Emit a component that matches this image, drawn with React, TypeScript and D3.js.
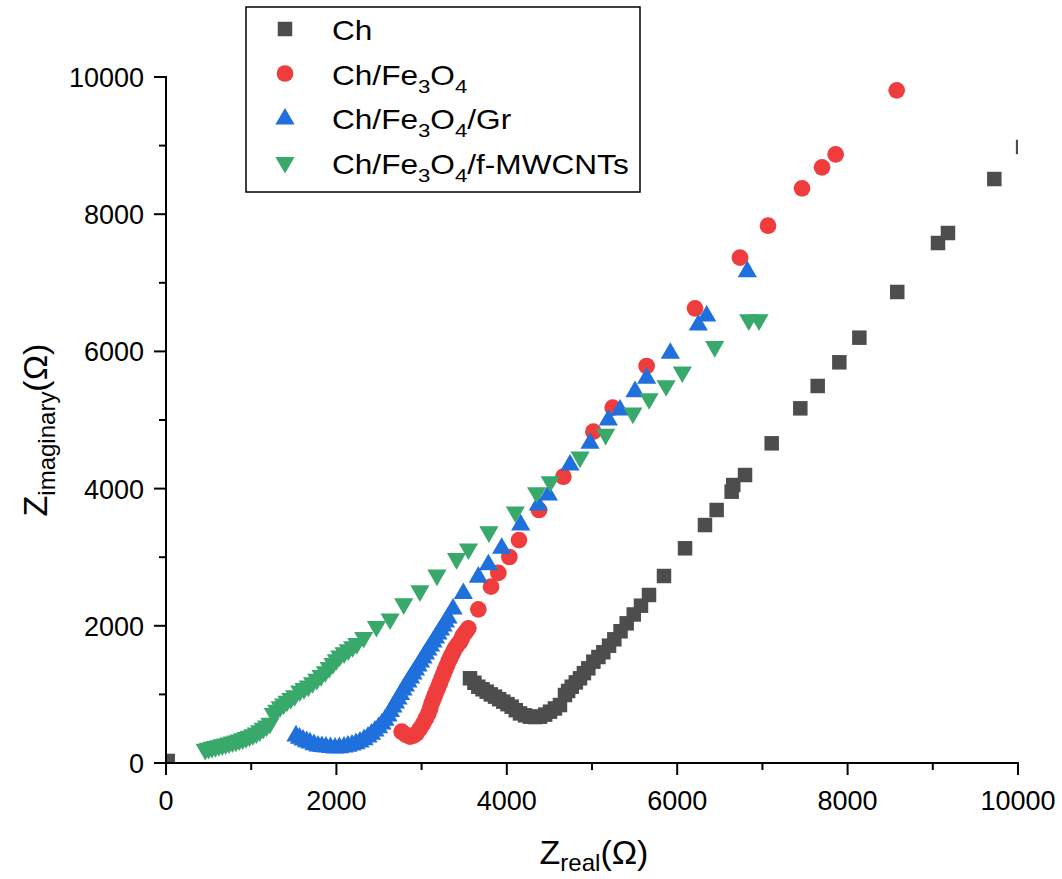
import { useMemo } from "react";
import * as d3 from "d3";

const WIDTH = 1062;
const HEIGHT = 879;
const MARGIN = { top: 77, right: 44, bottom: 116, left: 166 };

// Nyquist data, [Z real, Z imaginary] in ohm
const chPoints = [
  [20, 30], [3568, 1235], [3620, 1170], [3666, 1112], [3715, 1075], [3764, 1040],
  [3812, 1000], [3862, 967], [3910, 930], [3959, 894], [4008, 858], [4057, 821],
  [4105, 770], [4155, 723], [4215, 695], [4272, 675], [4330, 670], [4390, 675],
  [4450, 705], [4507, 748], [4565, 795], [4624, 845], [4683, 991], [4720, 1050],
  [4762, 1112], [4810, 1175], [4859, 1235], [4905, 1310], [4957, 1380], [5016, 1477],
  [5075, 1545], [5133, 1614], [5200, 1710], [5262, 1803], [5335, 1920], [5407, 2036],
  [5490, 2165], [5575, 2293], [5669, 2449], [5845, 2726], [6092, 3130], [6326, 3469],
  [6463, 3688], [6639, 3955], [6658, 4052], [6796, 4198], [7109, 4660], [7445, 5170],
  [7649, 5496], [7903, 5841], [8138, 6200], [8583, 6866], [9061, 7580], [9178, 7726],
  [9722, 8513], [10060, 8980],
];

const fe3o4Points = [
  [2766, 456], [2815, 410], [2864, 384], [2905, 400], [2942, 433], [2980, 500],
  [3020, 578], [3050, 650], [3079, 723], [3100, 795], [3118, 870], [3138, 930],
  [3157, 991], [3176, 1050], [3196, 1112], [3216, 1175], [3236, 1235], [3255, 1295],
  [3275, 1356], [3295, 1415], [3314, 1477], [3333, 1525], [3353, 1574], [3372, 1622],
  [3392, 1672], [3420, 1720], [3451, 1768], [3470, 1815], [3490, 1866], [3520, 1915],
  [3548, 1963], [3666, 2240], [3815, 2570], [3901, 2771], [4030, 3003], [4143, 3250],
  [4378, 3688], [4664, 4173], [5016, 4830], [5243, 5180], [5641, 5787], [6209, 6628],
  [6737, 7366], [7066, 7832], [7465, 8377], [7700, 8683], [7860, 8873], [8576, 9806],
];

const grPoints = [
  [1526, 394], [1567, 362], [1608, 335], [1650, 312], [1690, 292], [1737, 268],
  [1784, 248], [1830, 240], [1878, 233], [1930, 225], [1984, 219], [2035, 224],
  [2089, 233], [2135, 246], [2183, 262], [2230, 282], [2277, 306], [2325, 340],
  [2371, 379], [2412, 420], [2453, 466], [2495, 515], [2535, 569], [2570, 625],
  [2606, 685], [2635, 750], [2664, 816], [2693, 875], [2723, 933], [2752, 1000],
  [2782, 1064], [2810, 1122], [2840, 1181], [2870, 1240], [2899, 1297], [2928, 1355],
  [2958, 1414], [2987, 1472], [3016, 1531], [3045, 1590], [3075, 1647], [3105, 1705],
  [3134, 1764], [3163, 1822], [3192, 1880], [3222, 1938], [3251, 1997], [3280, 2055],
  [3310, 2114], [3369, 2245], [3490, 2470], [3666, 2710], [3784, 2890], [3940, 3130],
  [4163, 3470], [4370, 3760], [4488, 3907], [4742, 4344], [4977, 4660], [5192, 5000],
  [5329, 5146], [5505, 5413], [5641, 5608], [5919, 5972], [6248, 6385], [6346, 6516],
  [6823, 7162],
];

const mwcntPoints = [
  [460, 200], [500, 214], [540, 228], [580, 240], [620, 252], [660, 265],
  [700, 278], [740, 292], [780, 306], [820, 320], [860, 336], [900, 352],
  [940, 370], [980, 390], [1020, 412], [1060, 438], [1100, 468], [1140, 505],
  [1180, 540], [1220, 580], [1260, 720], [1300, 770], [1340, 820], [1380, 860],
  [1420, 900], [1465, 940], [1510, 980], [1570, 1050], [1620, 1085], [1670, 1120],
  [1720, 1170], [1770, 1220], [1820, 1275], [1870, 1330], [1915, 1390], [1960, 1450],
  [2000, 1505], [2040, 1560], [2090, 1605], [2140, 1650], [2190, 1695], [2240, 1740],
  [2320, 1830], [2470, 1990], [2630, 2100], [2790, 2320], [2980, 2510], [3180, 2740],
  [3410, 2980], [3550, 3120], [3790, 3370], [4100, 3660], [4350, 3940], [4510, 4100],
  [4860, 4460], [5160, 4790], [5480, 5100], [5670, 5310], [5870, 5500], [6060, 5700],
  [6440, 6070], [6840, 6460], [6960, 6460],
];

const xTicks = [0, 2000, 4000, 6000, 8000, 10000];
const yTicks = [0, 2000, 4000, 6000, 8000, 10000];

const SERIES = [
  { name: [["Ch"]], points: chPoints, color: "#4d4d4d", shape: "square" },
  { name: [["Ch/Fe"], ["3", 1], ["O"], ["4", 1]], points: fe3o4Points, color: "#ef3d3d", shape: "circle" },
  { name: [["Ch/Fe"], ["3", 1], ["O"], ["4", 1], ["/Gr"]], points: grPoints, color: "#1f6fdc", shape: "up" },
  { name: [["Ch/Fe"], ["3", 1], ["O"], ["4", 1], ["/f-MWCNTs"]], points: mwcntPoints, color: "#38a96a", shape: "down" },
];

const FONT = "Arial, 'Liberation Sans', sans-serif";

const symbolPath = (shape) => {
  if (shape === "square") return d3.symbol(d3.symbolSquare, 210)();
  if (shape === "circle") return d3.symbol(d3.symbolCircle, 220)();
  return d3.symbol(d3.symbolTriangle, 160)();
};

const Marker = ({ shape, color, x, y }) => (
  <path
    d={symbolPath(shape)}
    fill={color}
    transform={`translate(${x},${y})${shape === "down" ? " rotate(180)" : ""}`}
  />
);

export default function App() {
  const xScale = useMemo(
    () => d3.scaleLinear().domain([0, 10000]).range([MARGIN.left, WIDTH - MARGIN.right]),
    []
  );
  const yScale = useMemo(
    () => d3.scaleLinear().domain([0, 10000]).range([HEIGHT - MARGIN.bottom, MARGIN.top]),
    []
  );

  const [x0, x1] = xScale.range();
  const [y0, y1] = yScale.range();
  const minor = d3.range(1000, 10000, 2000);

  return (
    <svg
      width={WIDTH}
      height={HEIGHT}
      style={{ position: "absolute", left: 0, top: 0, background: "#fff" }}
      fontFamily={FONT}
    >
      <defs>
        <clipPath id="plot-clip">
          <rect x={x0} y={y1} width={x1 - x0} height={y0 - y1} />
        </clipPath>
      </defs>

      {/* data */}
      <g clipPath="url(#plot-clip)">
        {SERIES.map((s, i) => (
          <g key={i}>
            {s.points.map((p, j) => (
              <Marker key={j} shape={s.shape} color={s.color} x={xScale(p[0])} y={yScale(p[1])} />
            ))}
          </g>
        ))}
      </g>

      {/* axes */}
      <g stroke="#000" strokeWidth={2}>
        <line x1={x0 - 1} x2={x1 + 1} y1={y0} y2={y0} />
        <line x1={x0} x2={x0} y1={y0 + 1} y2={y1 - 1} />
        {xTicks.map((t) => (
          <line key={"xt" + t} x1={xScale(t)} x2={xScale(t)} y1={y0} y2={y0 + 12} />
        ))}
        {minor.map((t) => (
          <line key={"xm" + t} x1={xScale(t)} x2={xScale(t)} y1={y0} y2={y0 + 7} />
        ))}
        {yTicks.map((t) => (
          <line key={"yt" + t} x1={x0 - 12} x2={x0} y1={yScale(t)} y2={yScale(t)} />
        ))}
        {minor.map((t) => (
          <line key={"ym" + t} x1={x0 - 7} x2={x0} y1={yScale(t)} y2={yScale(t)} />
        ))}
      </g>
      <g fontSize={27} fill="#000">
        {xTicks.map((t) => (
          <text key={"xl" + t} x={xScale(t)} y={y0 + 47} textAnchor="middle">
            {t}
          </text>
        ))}
        {yTicks.map((t) => (
          <text key={"yl" + t} x={x0 - 22} y={yScale(t) + 10} textAnchor="end">
            {t}
          </text>
        ))}
      </g>

      {/* axis titles */}
      <text x={594} y={864} textAnchor="middle" fontSize={34}>
        Z<tspan fontSize={24} dy={7}>real</tspan>
        <tspan dy={-7}>(Ω)</tspan>
      </text>
      <text transform="translate(47,430) rotate(-90)" textAnchor="middle" fontSize={34}>
        Z<tspan fontSize={24} dy={8}>imaginary</tspan>
        <tspan dy={-8}>(Ω)</tspan>
      </text>

      {/* legend */}
      <rect x={246} y={7} width={394} height={185} fill="#fff" stroke="#000" strokeWidth={1.5} />
      {SERIES.map((s, i) => {
        const cy = 29 + i * 44.5;
        return (
          <g key={"lg" + i}>
            <Marker shape={s.shape} color={s.color} x={285} y={cy + (s.shape === "up" ? 1 : 0)} />
            <text
              transform={`translate(332,${cy + 11}) scale(1.17,1)`}
              fontSize={27}
              fill="#000"
            >
              {s.name.map((part, k) => {
                const sub = part[1] === 1;
                const prevSub = k > 0 && s.name[k - 1][1] === 1;
                const dy = sub ? 8 : prevSub ? -8 : 0;
                return (
                  <tspan key={k} fontSize={sub ? 19 : 27} dy={dy}>
                    {part[0]}
                  </tspan>
                );
              })}
            </text>
          </g>
        );
      })}
    </svg>
  );
}
